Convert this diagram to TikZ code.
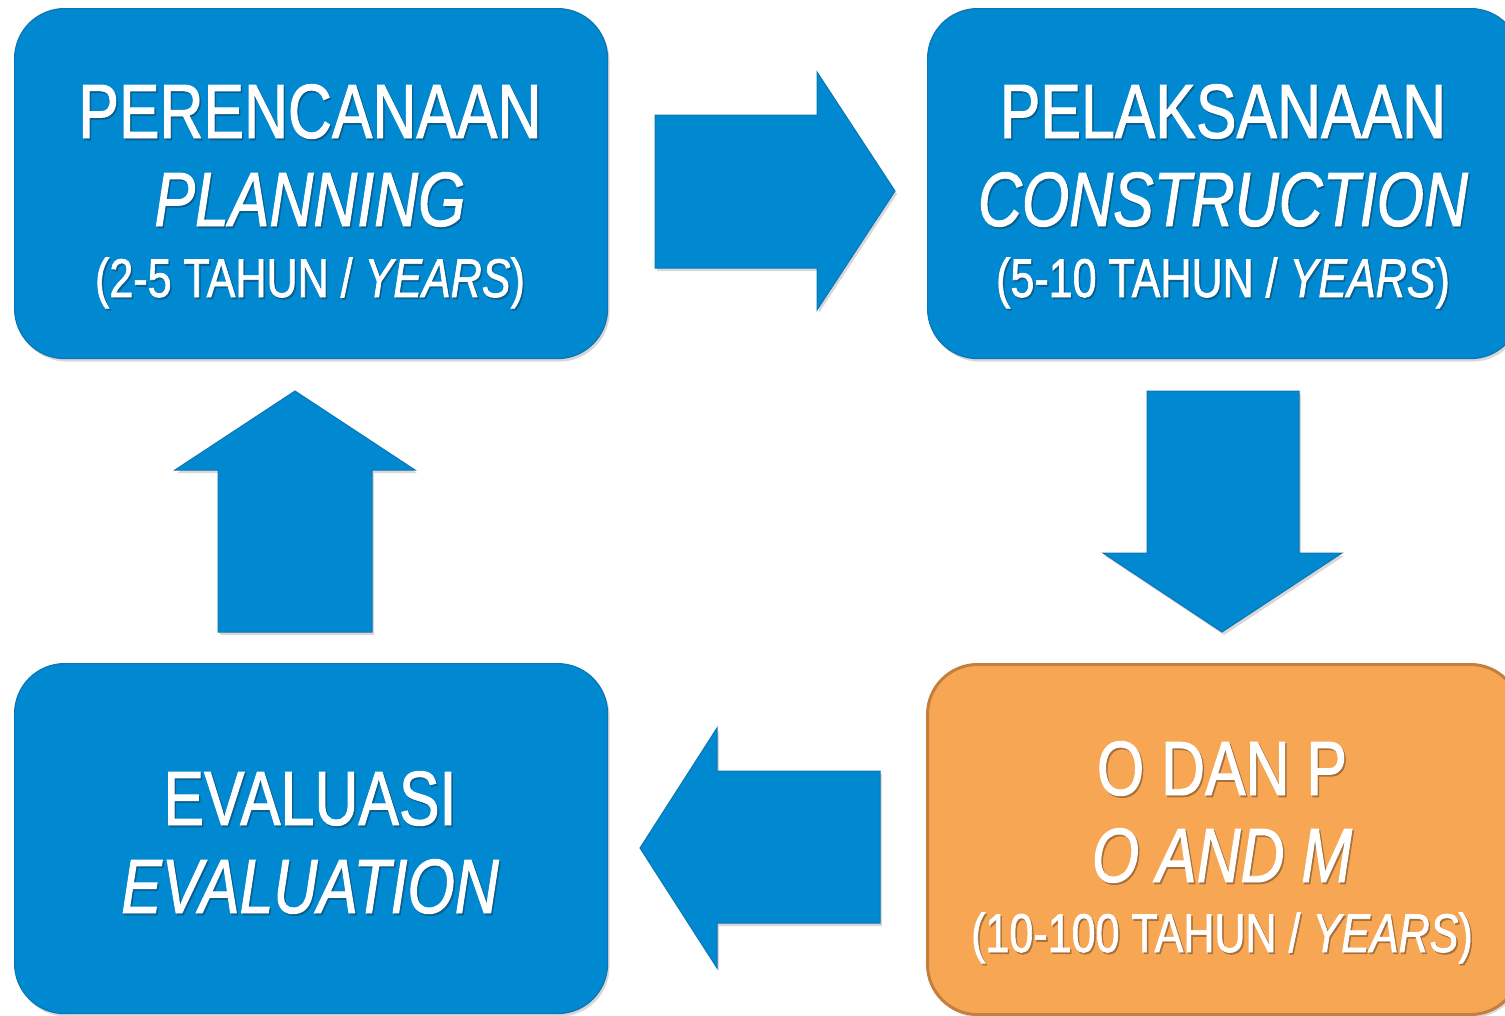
\documentclass[tikz,border=0pt]{standalone}
\usepackage{fontspec}
\setmainfont[FakeStretch=0.79,FakeBold=1.2]{Liberation Sans}
\usetikzlibrary{shadows}
\definecolor{boxblue}{HTML}{0089D0}
\definecolor{blueedge}{HTML}{0B76B5}
\definecolor{boxorange}{HTML}{F7A654}
\definecolor{orangeedge}{HTML}{C47F3C}
\definecolor{blueshade}{HTML}{0A5E90}
\definecolor{orangeshade}{HTML}{A8703A}
\newcommand\shtxt[2]{\makebox[0pt][l]{\hspace*{1.5pt}\raisebox{-1.8pt}{\textcolor{#1}{#2}}}#2}
\begin{document}
\begin{tikzpicture}[x=1pt,y=-1pt,
  softshadow/.style={drop shadow={opacity=0.3,shadow xshift=2pt,shadow yshift=-3pt}},
  bluebox/.style={rectangle, fill=boxblue, draw=blueedge, line width=1.2pt, rounded corners=50pt,
    minimum width=593pt, minimum height=350pt, anchor=north west, inner sep=0pt, softshadow},
  orangebox/.style={bluebox, fill=boxorange, draw=orangeedge, line width=3pt},
  blockarrow/.style={fill=boxblue, draw=blueedge, line width=1pt, line join=miter, softshadow},
  big/.style={text=white, anchor=base, inner sep=0pt, font=\fontsize{77}{80}\selectfont},
  small/.style={text=white, anchor=base, inner sep=0pt, font=\fontsize{54.5}{58}\selectfont}]
\useasboundingbox (0,0) rectangle (1505,1015);
\clip (0,0) rectangle (1505,1015);
\fill[white] (0,0) rectangle (1505,1015);

% boxes
\node[bluebox] (plan) at (14,8) {};
\node[bluebox] (cons) at (927,8) {};
\node[bluebox] (eval) at (14,663) {};
\node[orangebox] (om) at (926,663) {};

% texts
\node[big] (plan1) at (310,138) {\shtxt{blueshade}{PERENCANAAN}};
\node[big] (plan2) at (310,226) {\itshape\shtxt{blueshade}{PLANNING}};
\node[small] (plan3) at (310,297) {\shtxt{blueshade}{(2-5 TAHUN / \textit{YEARS})}};

\node[big] (cons1) at (1223,138) {\shtxt{blueshade}{PELAKSANAAN}};
\node[big] (cons2) at (1223,226) {\itshape\shtxt{blueshade}{CONSTRUCTION}};
\node[small] (cons3) at (1223,297) {\shtxt{blueshade}{(5-10 TAHUN / \textit{YEARS})}};

\node[big] (eval1) at (310,825) {\shtxt{blueshade}{EVALUASI}};
\node[big] (eval2) at (310,913) {\itshape\shtxt{blueshade}{EVALUATION}};

\node[big] (om1) at (1222,795) {\shtxt{orangeshade}{O DAN P}};
\node[big] (om2) at (1222,882) {\itshape\shtxt{orangeshade}{O AND M}};
\node[small] (om3) at (1222,952) {\shtxt{orangeshade}{(10-100 TAHUN / \textit{YEARS})}};

% block arrows
\draw[blockarrow] (655,115) -- (817,115) -- (817,72) -- (895,191) -- (817,310) -- (817,268) -- (655,268) -- cycle;
\draw[blockarrow] (1147,391) -- (1299,391) -- (1299,553) -- (1342,553) -- (1222,632) -- (1103,553) -- (1147,553) -- cycle;
\draw[blockarrow] (372,632) -- (218,632) -- (218,470) -- (175,470) -- (295,391) -- (415,470) -- (372,470) -- cycle;
\draw[blockarrow] (880,771) -- (880,923) -- (717,923) -- (717,968) -- (640,848) -- (717,728) -- (717,771) -- cycle;
\end{tikzpicture}
\end{document}
